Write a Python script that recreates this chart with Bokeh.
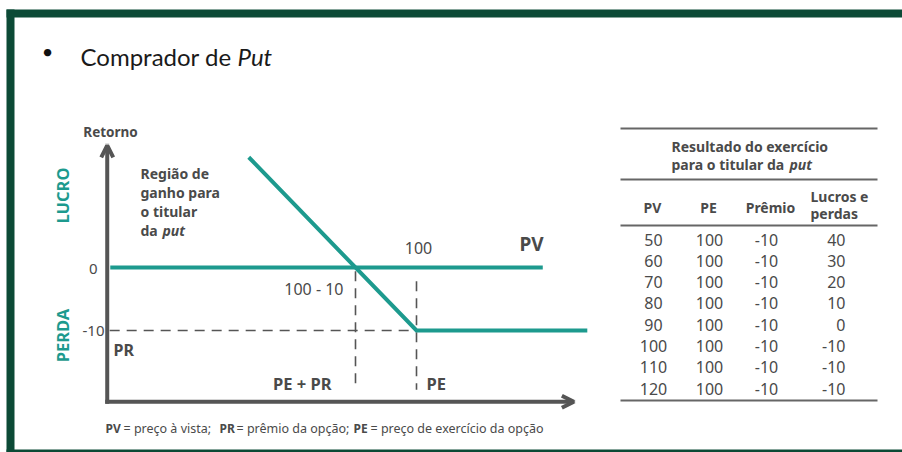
from bokeh.plotting import figure
from bokeh.models import Range1d, Arrow, OpenHead, ColumnDataSource
from bokeh.core.properties import value
from bokeh.embed import file_html
from bokeh.resources import INLINE
import math

# ---------------- data ----------------
# payoff of the put buyer (PV -> result)
payoff_pv = [72.5, 100, 128]
payoff_ret = [17.5, -10, -10]
# zero-return reference line
zero_pv = [49.8, 120.7]
zero_ret = [0, 0]
strike = 100          # PE
premium = 10          # PR
breakeven = 90        # PE - PR
loss_level = -10

# axes extent (data units)
axis_origin_pv = 49.3
axis_origin_ret = -21.3
axis_end_pv = 125.8
axis_end_ret = 19.4

# table
table_title = ["Resultado do exercício", "para o titular da"]
table_headers = ["PV", "PE", "Prêmio"]
table_pv = [50, 60, 70, 80, 90, 100, 110, 120]
table_pe = [100, 100, 100, 100, 100, 100, 100, 100]
table_premio = [-10, -10, -10, -10, -10, -10, -10, -10]
table_result = [40, 30, 20, 10, 0, -10, -10, -10]

# ---------------- style ----------------
TEAL = "#1d9a8e"
GRAY = "#555555"
TXT = "#4a4a4a"
GREEN = "#0c4a36"
FONT = "Noto Sans"
W, H = 902, 452

# pixel mapping of the chart (page px)
PX_90, SX = 355.0, 6.1
PY_0, SY = 267.0, 6.3

x_start = 90 + (0 - PX_90) / SX
x_end = 90 + (W - PX_90) / SX
y_start = (PY_0 - H) / SY
y_end = (PY_0 - 0) / SY

p = figure(width=W, height=H, x_range=Range1d(x_start, x_end),
           y_range=Range1d(y_start, y_end), x_axis_type=None, y_axis_type=None,
           output_backend="svg", toolbar_location=None, min_border=0,
           outline_line_color=None, background_fill_color="white")
p.extra_x_ranges = {"px": Range1d(0, W)}
p.extra_y_ranges = {"px": Range1d(H, 0)}


def txt(x, y, s, size=13, bold=False, italic=False, color=TXT, align="left",
        angle=0.0, font=FONT, baseline="middle"):
    style = "normal"
    if bold and italic:
        style = "bold italic"
    elif bold:
        style = "bold"
    elif italic:
        style = "italic"
    p.text(x=[x], y=[y], text=[s], x_range_name="px", y_range_name="px",
           text_font=value(font), text_font_size=f"{size}px",
           text_font_style=style, text_color=color, text_align=align,
           text_baseline=baseline, angle=angle)


# ---------------- frame ----------------
p.quad(left=[6], right=[W], top=[9], bottom=[17], x_range_name="px",
       y_range_name="px", fill_color=GREEN, line_color=None)
p.quad(left=[6], right=[14], top=[9], bottom=[H], x_range_name="px",
       y_range_name="px", fill_color=GREEN, line_color=None)
p.quad(left=[6], right=[W], top=[449], bottom=[H], x_range_name="px",
       y_range_name="px", fill_color=GREEN, line_color=None)

# ---------------- title ----------------
txt(47, 50, "•", size=20, color="#111111", align="center", font="Lato")
txt(80, 56, "Comprador de", size=24, color="#1a1a1a", font="Lato", baseline="alphabetic")
txt(237, 56, "Put", size=24, italic=True, color="#1a1a1a", font="Lato", baseline="alphabetic")

# ---------------- chart ----------------
# dashed guides
p.line([axis_origin_pv + 0.4, strike], [loss_level, loss_level], line_color=GRAY,
       line_width=1.6, line_dash="10 7")
p.line([breakeven, breakeven], [-0.6, -19.4], line_color=GRAY, line_width=1.6,
       line_dash="10 7")
p.line([strike, strike], [-2.2, -19.4], line_color=GRAY, line_width=1.6,
       line_dash="10 7")

# teal lines
p.line(zero_pv, zero_ret, line_color=TEAL, line_width=4)
p.line(payoff_pv, payoff_ret, line_color=TEAL, line_width=4, line_join="miter")

# axes with open arrow heads
p.add_layout(Arrow(x_start=axis_origin_pv, y_start=axis_origin_ret,
                   x_end=axis_origin_pv, y_end=axis_end_ret,
                   line_color=GRAY, line_width=4, line_cap="square",
                   end=OpenHead(size=12, line_color=GRAY, line_width=4)))
p.add_layout(Arrow(x_start=axis_origin_pv, y_start=axis_origin_ret,
                   x_end=axis_end_pv, y_end=axis_origin_ret,
                   line_color=GRAY, line_width=4, line_cap="square",
                   end=OpenHead(size=12, line_color=GRAY, line_width=4)))

# chart labels
txt(110, 131, "Retorno", size=13.5, bold=True, align="center")
txt(62, 195, "LUCRO", size=16.5, bold=True, color=TEAL, align="center", angle=math.pi / 2)
txt(62, 335, "PERDA", size=16.5, bold=True, color=TEAL, align="center", angle=math.pi / 2)
for i, line in enumerate(["Região de", "ganho para", "o titular"]):
    txt(140, 173 + i * 19, line, size=14, bold=True)
txt(140, 230, "da", size=14, bold=True)
txt(162, 230, "put", size=14, bold=True, italic=True)
txt(97, 268, "0", size=15, align="right")
txt(104, 330, str(loss_level), size=15, align="right")
txt(113, 349, "PR", size=16, bold=True)
txt(418, 247, str(strike), size=16, align="center")
txt(531, 243, "PV", size=19, bold=True, align="center")
txt(343, 288, f"{strike} - {premium}", size=16, align="right")
txt(331, 383, "PE + PR", size=16.5, bold=True, align="right")
txt(426, 383, "PE", size=16.5, bold=True)

# footnote
foot = [(105, "PV", True), (123, "= preço à vista;", False), (219, "PR", True),
        (236, "= prêmio da opção;", False), (353, "PE", True),
        (370, "= preço de exercício da opção", False)]
for fx, s, b in foot:
    txt(fx, 428, s, size=12 if b else 12.5, bold=b)

# ---------------- table ----------------
for ry in [128, 179, 225, 400]:
    p.line([620, 877], [ry, ry], x_range_name="px", y_range_name="px",
           line_color="#666666", line_width=2)
txt(671, 146, table_title[0], size=14, bold=True)
txt(671, 164, table_title[1], size=14, bold=True)
txt(789, 164, "put", size=14, bold=True, italic=True)
for hx, h in zip([652, 708, 770], table_headers):
    txt(hx, 207, h, size=14, bold=True, align="center")
txt(810, 196, "Lucros e", size=14, bold=True)
txt(810, 213, "perdas", size=14, bold=True)

rows_y = [239 + i * 21.3 for i in range(len(table_pv))]
for cx, col, al in [(653, table_pv, "center"), (709, table_pe, "center"),
                    (766, table_premio, "center"), (845, table_result, "right")]:
    src = ColumnDataSource(dict(x=[cx] * len(col), y=rows_y, t=[str(v) for v in col]))
    p.text(x="x", y="y", text="t", source=src, x_range_name="px", y_range_name="px",
           text_font=value(FONT), text_font_size="16px", text_color=TXT,
           text_align=al, text_baseline="middle")

open("out.html", "w").write(file_html(p, INLINE))
